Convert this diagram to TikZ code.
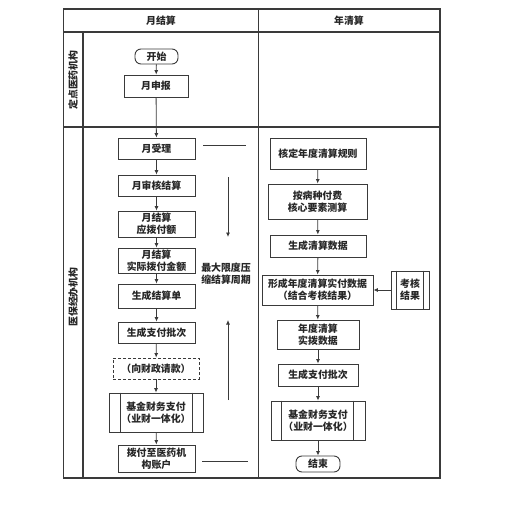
\documentclass[tikz,border=0pt]{standalone}
\usepackage{fontspec}
\setmainfont{Noto Sans CJK SC}
\usetikzlibrary{arrows.meta}
\definecolor{ln}{HTML}{3A3A3A}
\begin{document}
\begin{tikzpicture}[x=1pt,y=-1pt,
  every node/.style={font=\fontsize{9.9}{12}\selectfont\bfseries, text=black!85, align=center, inner sep=0pt},
  box/.style={draw=ln, line width=0.9pt, rectangle, minimum width=#1},
  box/.default=77,
  term/.style={draw=ln, line width=0.9pt, rectangle, rounded corners=6pt, minimum width=#1},
  dbox/.style={draw=ln, line width=0.9pt, dashed, dash pattern=on 3pt off 2pt, rectangle, minimum width=#1},
  flow/.style={draw=ln, line width=0.8pt, -{Latex[length=4.5pt,width=4pt]}},
  frame/.style={draw=ln, line width=1.2pt},
  inner/.style={draw=ln, line width=0.9pt}
]
\useasboundingbox (0,0) rectangle (518,531);
% frame
\draw[frame] (63.5,9) rectangle (440,478);
\draw[frame] (63.5,32) -- (440,32);
\draw[frame] (63.5,127) -- (440,127);
\draw[frame] (258.5,9) -- (258.5,478);
\draw[frame] (83,32) -- (83,478);
\node (h1) at (161,20.5) {月结算};
\node (h2) at (349,20.5) {年清算};
\node[rotate=90] (l1) at (73,80) {定点医药机构};
\node[rotate=90] (l2) at (73,297) {医保经办机构};
% left column
\node[term=43, minimum height=15] (start) at (156.5,56.5) {开始};
\node[box=64, minimum height=22] (sb) at (156,86) {月申报};
\node[box, minimum height=21] (a1) at (156.5,148.5) {月受理};
\node[box, minimum height=21] (a2) at (156.5,185.5) {月审核结算};
\node[box, minimum height=26] (a3) at (156.5,224) {月结算\\应拨付额};
\node[box, minimum height=25] (a4) at (156.5,260.5) {月结算\\实际拨付金额};
\node[box, minimum height=24] (a5) at (156.5,296) {生成结算单};
\node[box, minimum height=21] (a6) at (156.5,332.5) {生成支付批次};
\node[dbox=86, minimum height=21] (a7) at (156,368.5) {（向财政请款）};
\node[box=94, minimum height=39] (a8) at (156,412.5) {基金财务支付\\（业财一体化）};
\draw[inner] ([xshift=12pt]a8.north west) -- ([xshift=12pt]a8.south west);
\draw[inner] ([xshift=-11pt]a8.north east) -- ([xshift=-11pt]a8.south east);
\node[box, minimum height=27] (a9) at (156.5,458.5) {拨付至医药机\\构账户};
\foreach \p/\q in {start/sb, sb/a1, a1/a2, a2/a3, a3/a4, a4/a5, a5/a6, a6/a7, a7/a8, a8/a9}
  \draw[flow] (\p) -- (\q);
% annotation
\coordinate (t1) at (203,145);
\coordinate (t2) at (246,145);
\coordinate (d1) at (228,177);
\coordinate (d2) at (228,237);
\coordinate (u1) at (228,400);
\coordinate (u2) at (228,320);
\coordinate (b1) at (202,461);
\coordinate (b2) at (248,461);
\draw[inner] (t1) -- (t2);
\draw[inner] (b1) -- (b2);
\draw[flow] (d1) -- (d2);
\draw[flow] (u1) -- (u2);
\node (note) at (226,274) {最大限度压\\缩结算周期};
% right column
\node[box=96, minimum height=31] (r1) at (318,153.5) {核定年度清算规则};
\node[box=99, minimum height=35] (r2) at (317.5,201.5) {按病种付费\\核心要素测算};
\node[box=96, minimum height=22] (r3) at (318,246) {生成清算数据};
\node[box=111, minimum height=30] (r4) at (317.5,290) {形成年度清算实付数据\\（结合考核结果）};
\node[box=38, minimum height=38] (k) at (410,290) {考核\\结果};
\draw[inner] ([xshift=6pt]k.north west) -- ([xshift=6pt]k.south west);
\draw[inner] ([xshift=-6pt]k.north east) -- ([xshift=-6pt]k.south east);
\node[box=82, minimum height=29] (r5) at (318,334.5) {年度清算\\实拨数据};
\node[box=80, minimum height=22] (r6) at (318,375) {生成支付批次};
\node[box=94, minimum height=39] (r7) at (318,420.5) {基金财务支付\\（业财一体化）};
\draw[inner] ([xshift=11pt]r7.north west) -- ([xshift=11pt]r7.south west);
\draw[inner] ([xshift=-12pt]r7.north east) -- ([xshift=-12pt]r7.south east);
\node[term=44, minimum height=16] (end) at (318,464) {结束};
\foreach \p/\q in {r1/r2, r2/r3, r3/r4, r4/r5, r5/r6, r6/r7, r7/end}
  \draw[flow] (\p) -- (\q);
\draw[flow] (k) -- (r4);
\end{tikzpicture}
\end{document}
